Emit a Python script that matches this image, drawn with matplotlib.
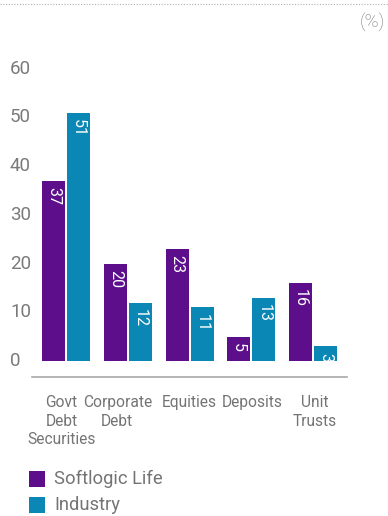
import matplotlib.pyplot as plt
import matplotlib.transforms as mtransforms
from matplotlib.patches import Rectangle
from matplotlib.lines import Line2D
import numpy as np

plt.rcParams['font.family'] = ['Roboto', 'DejaVu Sans']

categories = ["Govt\nDebt\nSecurities", "Corporate\nDebt", "Equities", "Deposits", "Unit\nTrusts"]
softlogic = [37, 20, 23, 5, 16]
industry = [51, 12, 11, 13, 3]
yticks = [0, 10, 20, 30, 40, 50, 60]

purple = '#5c0e8b'
blue = '#0b87b5'
grey = '#747474'

W, H = 388, 516
fig = plt.figure(figsize=(W / 100, H / 100), dpi=100)

# axes placed in pixel terms: x from 32 to 347, bottom spine at y=377
left, right, bottom, top = 32, 347, 377, 50
ax = fig.add_axes([left / W, 1 - bottom / H, (right - left) / W, (bottom - top) / H])

ppu = 4.87          # pixels per percent
zero_px = 361
ax.set_ylim(-(bottom - zero_px) / ppu, (zero_px - top) / ppu)
spacing = 61.75
ax.set_xlim((left - 66) / spacing, (right - 66) / spacing)

x = np.arange(len(categories))
w = 23 / spacing
gap = 1.0 / spacing
b1 = ax.bar(x - w / 2 - gap, softlogic, w, color=purple)
b2 = ax.bar(x + w / 2 + gap, industry, w, color=blue)

for bars, vals in ((b1, softlogic), (b2, industry)):
    for r, v in zip(bars, vals):
        ax.annotate(str(v), (r.get_x() + r.get_width() / 2, v),
                    xytext=(0, -4.5), textcoords='offset points',
                    ha='center', va='top', rotation=-90,
                    color='white', fontsize=11.5)

for s in ['top', 'right', 'left']:
    ax.spines[s].set_visible(False)
ax.spines['bottom'].set_color('#a8a8a8')
ax.spines['bottom'].set_linewidth(1.2)
ax.set_xticks([])
ax.set_yticks([])

# y tick labels, left aligned
tr = mtransforms.blended_transform_factory(fig.transFigure, ax.transData)
for t in yticks:
    fig.text(10 / W, t, str(t), transform=tr, ha='left', va='center',
             fontsize=13.5, color='#7a7a7a')

# category labels under the axis, one text per line
shifts = [-0.07, -0.17, 0.0, 0.01, 0.03]
xtr = mtransforms.blended_transform_factory(ax.transData, fig.transFigure)
for i, (c, s) in enumerate(zip(categories, shifts)):
    for k, line in enumerate(c.split("\n")):
        fig.text(i + s, 1 - (395 + 18.5 * k) / H, line, transform=xtr,
                 ha='center', va='top', fontsize=11.2, color=grey)

# unit label and dotted rule at the top
fig.text(385 / W, 1 - 22 / H, "(%)", ha='right', va='center',
         fontsize=13.5, color=grey, fontweight='light')
fig.add_artist(Line2D([0, 1], [1 - 4 / H, 1 - 4 / H], transform=fig.transFigure,
                      color='#b0b0b0', lw=0.8, ls=(0, (1, 1.5))))

# legend
for yy, col, lab in ((471, purple, "Softlogic Life"), (497, blue, "Industry")):
    fig.add_artist(Rectangle((29 / W, 1 - (yy + 16) / H), 16 / W, 16 / H,
                             transform=fig.transFigure, color=col, lw=0))
    fig.text(54 / W, 1 - (yy + 8) / H, lab, ha='left', va='center',
             fontsize=13.2, color=grey)

fig.savefig('out.png', dpi=100)
